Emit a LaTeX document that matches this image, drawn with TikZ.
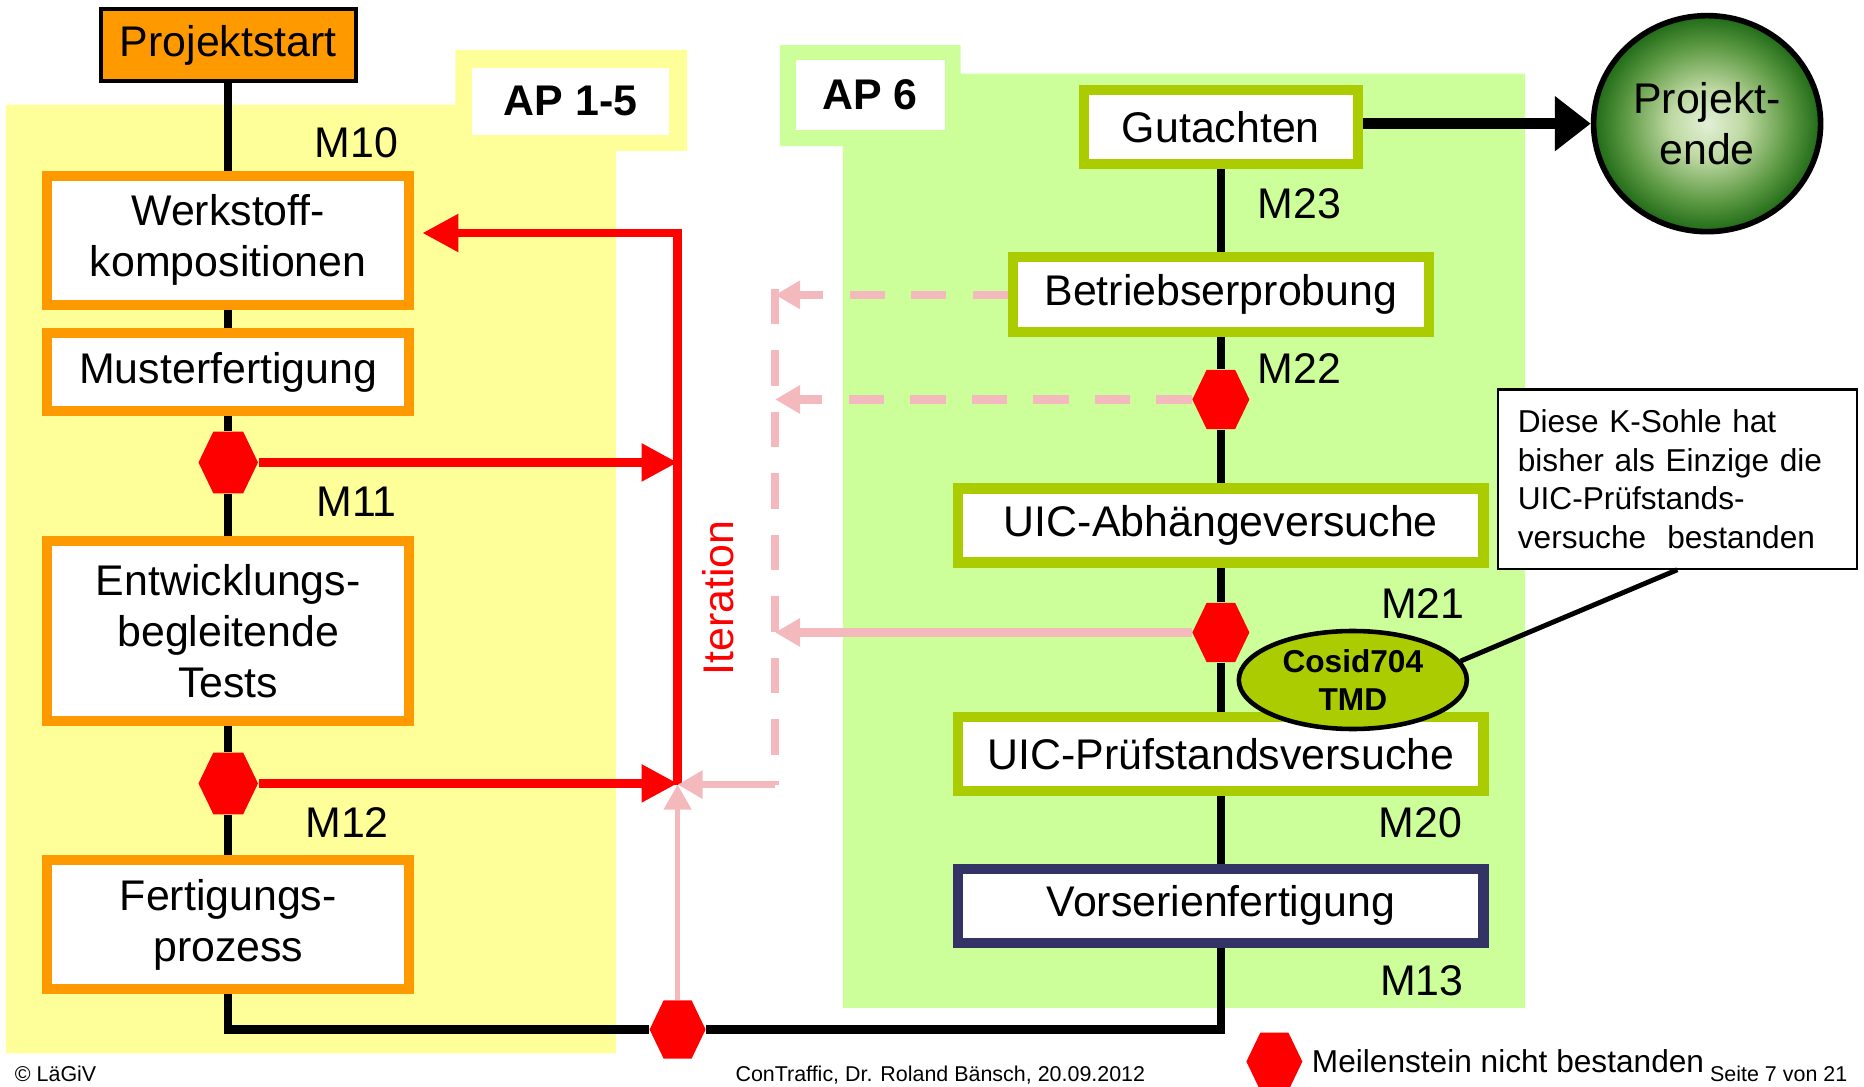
\documentclass[tikz,border=0pt]{standalone}
\usepackage{fontspec}
\setmainfont{Liberation Sans}
\usetikzlibrary{shapes.geometric,arrows.meta}
\definecolor{apyellow}{HTML}{FFFF99}
\definecolor{apgreen}{HTML}{CCFF99}
\definecolor{boxorange}{HTML}{FF9900}
\definecolor{boxgreen}{HTML}{AACC00}
\definecolor{boxnavy}{HTML}{333366}
\definecolor{iterpink}{HTML}{F4B9BD}
\definecolor{endgreen}{HTML}{1F6A16}
\definecolor{endmid}{HTML}{5E9A44}
\definecolor{endpale}{HTML}{BFD9A3}
\definecolor{endlight}{HTML}{E2F0D6}
\pgfdeclareradialshading{endshade}{\pgfpoint{0cm}{0cm}}{color(0bp)=(endlight); color(8bp)=(endpale); color(18bp)=(endmid); color(25bp)=(endgreen); color(50bp)=(endgreen)}
\newcommand\bigtxt{\fontsize{12.2}{14.6}\selectfont}
\newcommand\midtxt{\fontsize{9}{11}\selectfont}
\newcommand\foottxt{\fontsize{6.1}{7}\selectfont}

\begin{document}
\begin{tikzpicture}[x = 0.01189cm, y = -0.01189cm,
        ordbox/.style = {draw=boxorange, line width=2.9pt, fill=white, minimum width=3.62cm, align=center, font=\bigtxt, inner sep=0pt},
        grnbox/.style = {draw=boxgreen, line width=2.9pt, fill=white, minimum width=5.25cm, minimum height=0.74cm, align=center, font=\bigtxt, inner sep=0pt},
        milestone/.style = {regular polygon, regular polygon sides=6, fill=red, minimum size=0.595cm, inner sep=0pt, yscale=1.2},
        mtext/.style = {font=\bigtxt},
        chainline/.style = {line width=2.3pt},
        iterline/.style = {red, line width=2.4pt, -{Triangle[length=0.36cm, width=0.36cm]}},
        pinkline/.style = {iterpink, -{Triangle[length=0.25cm, width=0.27cm]}},
        pinkdash/.style = {dash pattern=on 10pt off 7.5pt}]
        \useasboundingbox (0, 0) rectangle (1568, 914);
        \fill [apyellow] (5, 88) -- (383, 88) -- (383, 42) -- (578, 42) -- (578, 127) -- (518, 127) -- (518, 886) -- (5, 886) -- cycle;
        \fill [apgreen] (656, 38) -- (808, 38) -- (808, 62) -- (1283, 62) -- (1283, 848) -- (709, 848) -- (709, 123) -- (656, 123) -- cycle;
        \node [fill=white, minimum width=1.97cm, minimum height=0.67cm, font=\bfseries\bigtxt] (ap15) at (480, 85) {AP 1-5};
        \node [fill=white, minimum width=1.49cm, minimum height=0.70cm, font=\bfseries\bigtxt] (ap6) at (732, 80) {AP 6};

        \node [draw, line width=1.2pt, fill=boxorange, minimum width=2.55cm, minimum height=0.72cm, font=\bigtxt] (start) at (192, 38) {Projektstart};
        \node [ordbox, minimum height=1.29cm] (werk) at (192, 202) {Werkstoff-\\kompositionen};
        \node [ordbox, minimum height=0.78cm] (muster) at (192, 313) {Musterfertigung};
        \node [milestone] (m11) at (192, 389) {};
        \node [ordbox, minimum height=1.80cm] (tests) at (192, 531) {Entwicklungs-\\begleitende\\Tests};
        \node [milestone] (m12) at (192, 659) {};
        \node [ordbox, minimum height=1.29cm] (fert) at (192, 778) {Fertigungs-\\prozess};
        \node [milestone, minimum size=0.56cm] (m0) at (570, 866) {};

        \node [grnbox, minimum width=2.74cm] (gut) at (1027, 107) {Gutachten};
        \node [grnbox, minimum width=4.16cm, minimum height=0.75cm] (betr) at (1027, 248) {Betriebserprobung};
        \node [milestone, minimum size=0.57cm] (m22) at (1027, 336) {};
        \node [grnbox] (abh) at (1027, 442) {UIC-Abhängeversuche};
        \node [milestone, minimum size=0.57cm] (m21) at (1027, 532) {};
        \node [grnbox] (pruef) at (1027, 634) {UIC-Prüfstandsversuche};
        \node [grnbox, draw=boxnavy] (vor) at (1027, 762) {Vorserienfertigung};
        \node [ellipse, draw, line width=1.6pt, shading=endshade, minimum width=2.27cm, minimum height=2.16cm, align=center, font=\bigtxt, inner sep=0pt] (ende) at (1436, 104) {Projekt-\\ende};

        \node [mtext] (l10) at (300, 120) {M10};
        \node [mtext] (l11) at (300, 422) {M11};
        \node [mtext] (l12) at (292, 692) {M12};
        \node [mtext] (l23) at (1093, 171) {M23};
        \node [mtext] (l22) at (1093, 310) {M22};
        \node [mtext] (l21) at (1197, 508) {M21};
        \node [mtext] (l20) at (1195, 692) {M20};
        \node [mtext] (l13) at (1196, 825) {M13};

        \draw [chainline] (start) -- (werk) -- (muster) -- (m11) -- (tests) -- (m12) -- (fert);
        \draw [chainline] (fert.south) |- (m0.west);
        \draw [chainline] (m0.east) -| (vor.south);
        \draw [chainline] (gut) -- (betr) -- (m22) -- (abh) -- (m21) -- (pruef) -- (vor);
        \draw [line width=3.1pt, -{Triangle[length=0.36cm, width=0.53cm]}] (gut.east |- ende.west) -- (ende.west);

        \coordinate (itop) at (570, 196);
        \coordinate (ijoin) at (570, 660);
        \coordinate (dtop) at (652, 243);
        \coordinate (dj) at (652, 660);
        \draw [iterline, shorten >=0.08cm] (ijoin) -- (itop) -- (itop -| werk.east);
        \draw [iterline] (m11) -- (m11 -| ijoin);
        \draw [iterline] (m12) -- (m12 -| ijoin);
        \node [red, rotate=90, font=\bigtxt] (iter) at (604, 503) {Iteration};

        \draw [pinkline, line width=1.4pt] (m0) -- (ijoin);
        \draw [iterpink, pinkdash, line width=2.1pt] (dtop) -- (dj);
        \draw [pinkline, line width=2.1pt] (dj) -- (ijoin);
        \draw [pinkline, pinkdash, line width=2.4pt] (betr.west) -- (betr.west -| dj);
        \draw [pinkline, pinkdash, line width=2.4pt] (m22) -- (m22 -| dj);
        \draw [pinkline, line width=2.4pt] (m21) -- (m21 -| dj);

        \node [ellipse, draw, line width=1.3pt, fill=boxgreen, minimum width=2.28cm, minimum height=0.98cm, inner sep=0pt, align=center, font=\bfseries\midtxt] (cosid) at (1138, 572) {Cosid704\\TMD};
        \node [draw, line width=0.6pt, fill=white, text width=3.19cm, inner sep=0.2cm, minimum height=1.74cm, align=left, font=\midtxt] (note) at (1411, 403) {Diese K-Sohle hat\\bisher als Einzige die\\UIC-Prüfstands-\\versuche\ \ bestanden};
        \draw [line width=1.4pt] (note.south) -- (cosid.10);

        \node [milestone, minimum size=0.56cm] (mleg) at (1072, 893) {};
        \node [anchor=base west, inner sep=0pt, font=\midtxt] (legend) at (1103, 902) {Meilenstein nicht bestanden};
        \node [anchor=base west, inner sep=0pt, font=\foottxt] (copy) at (12, 910) {© LäGiV};
        \node [anchor=base, inner sep=0pt, font=\foottxt] (credit) at (791, 910) {ConTraffic, Dr. Roland Bänsch, 20.09.2012};
        \node [anchor=base west, inner sep=0pt, font=\foottxt] (page) at (1438, 910) {Seite 7 von 21};
    \end{tikzpicture}
\end{document}
